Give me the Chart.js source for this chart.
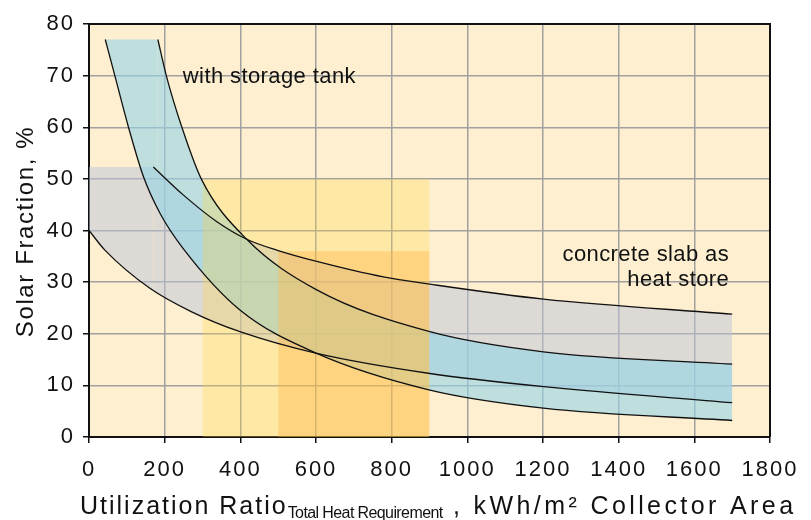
<!DOCTYPE html>
<html>
<head>
<meta charset="utf-8">
<script src="https://cdn.jsdelivr.net/npm/chart.js@4.4.0/dist/chart.umd.min.js"></script>
<style>
    html, body { margin: 0; padding: 0; background: #fff; }
    #wrap { width: 811px; height: 520px; position: relative; }
</style>
</head>
<body>
<div id="wrap"><canvas id="solarChart"></canvas></div>
<script>
// 目盛り
const xTicks = [0, 200, 400, 600, 800, 1000, 1200, 1400, 1600, 1800];
const yTicks = [0, 10, 20, 30, 40, 50, 60, 70, 80];

// 蓄熱槽あり (with storage tank) の上限・下限カーブ
const tankUpperX = [182, 205, 245, 298, 417, 602, 901, 1201, 1700];
const tankUpperY = [77, 69.8, 60.1, 49.8, 38.3, 28.5, 20.4, 16.5, 14.1];
const tankLowerX = [43, 69, 104, 144, 188, 249, 399, 602, 901, 1201, 1700];
const tankLowerY = [77, 69.8, 60.1, 50.4, 43.3, 36.5, 24.6, 16.2, 9.1, 5.6, 3.2];
const tankCapX = [43, 182];
const tankCapY = [77, 77];

// コンクリートスラブ蓄熱の上限・下限カーブ
const slabUpperX = [170, 249, 338, 417, 496, 602, 778, 901, 1201, 1700];
const slabUpperY = [52.3, 46.9, 41.7, 38.3, 36.2, 34.0, 31.0, 29.6, 26.7, 23.8];
const slabLowerX = [0, 42, 161, 270, 399, 602, 901, 1201, 1700];
const slabLowerY = [40, 36.2, 28.8, 24.3, 20.4, 16.2, 12.3, 9.75, 6.65];
const slabCapX = [0, 170];
const slabCapY = [52.3, 52.3];

// 範囲を示す矩形
const yellowX = [300, 900];
const yellowY = [50, 50];
const orangeX = [500, 900];
const orangeY = [36, 36];

// 注記
const notes = [
    { lines: ['with storage tank'], x: 248, y: 68.6, align: 'left' },
    { lines: ['concrete slab as', 'heat store'], x: 1692, y: 34, align: 'right' }
];

const colors = {
    plotBg: '#feefd0',
    grid: '#a0a0a0',
    curve: '#111111',
    slab: 'rgba(188, 195, 216, 0.5)',
    tank: 'rgba(146, 212, 230, 0.6)',
    yellow: 'rgba(254, 216, 68, 0.3)',
    orange: 'rgba(254, 182, 74, 0.4)'
};

const FONT = "'Liberation Sans', Arial, sans-serif";

function pts(xs, ys) {
    return xs.map((x, i) => ({ x: x, y: ys[i] }));
}

// 背景・枠・タイトル・注記
const decoPlugin = {
    id: 'deco',
    beforeDraw(chart) {
        const { ctx, chartArea: a } = chart;
        ctx.letterSpacing = '2px';
        ctx.save();
        ctx.fillStyle = colors.plotBg;
        ctx.fillRect(a.left, a.top, a.right - a.left, a.bottom - a.top);
        ctx.restore();
    },
    afterDatasetsDraw(chart) {
        const { ctx, scales } = chart;
        ctx.save();
        ctx.letterSpacing = '0.4px';
        ctx.fillStyle = '#111';
        ctx.font = '22px ' + FONT;
        notes.forEach(n => {
            ctx.textAlign = n.align;
            const px = scales.x.getPixelForValue(n.x);
            const py = scales.y.getPixelForValue(n.y);
            n.lines.forEach((t, i) => ctx.fillText(t, px, py + i * 25));
        });
        ctx.restore();
    },
    afterDraw(chart) {
        const { ctx, chartArea: a } = chart;
        ctx.save();
        // 上と右の枠
        ctx.strokeStyle = '#111';
        ctx.lineWidth = 2;
        ctx.beginPath();
        ctx.moveTo(a.left, a.top);
        ctx.lineTo(a.right, a.top);
        ctx.lineTo(a.right, a.bottom);
        ctx.stroke();

        ctx.fillStyle = '#111';
        // 縦軸タイトル
        ctx.save();
        ctx.letterSpacing = '1.6px';
        ctx.translate(33, (a.top + a.bottom) / 2 + 1);
        ctx.rotate(-Math.PI / 2);
        ctx.textAlign = 'center';
        ctx.textBaseline = 'alphabetic';
        ctx.font = '24px ' + FONT;
        ctx.fillText('Solar Fraction, %', 0, 0);
        ctx.restore();

        // 横軸タイトル (下付き文字あり)
        const parts = [
            { t: 'Utilization Ratio', size: 25, dy: 0, ls: '2px' },
            { t: 'Total Heat Requirement', size: 16, dy: 4, ls: '-0.6px' },
            { t: ' , kWh/m² Collector Area', size: 25, dy: 0, ls: '3.4px' }
        ];
        let x = 80;
        ctx.textAlign = 'left';
        parts.forEach(p => {
            ctx.font = p.size + 'px ' + FONT;
            ctx.letterSpacing = p.ls;
            ctx.fillText(p.t, x, 514 + p.dy);
            x += ctx.measureText(p.t).width;
        });
        ctx.restore();
    }
};

function createSolarChart() {
    const ctx = document.getElementById('solarChart').getContext('2d');

    const curve = {
        borderColor: colors.curve,
        borderWidth: 1.3,
        pointRadius: 0,
        fill: false,
        cubicInterpolationMode: 'monotone',
        order: 0
    };
    const area = {
        borderColor: 'transparent',
        borderWidth: 0,
        pointRadius: 0,
        cubicInterpolationMode: 'monotone'
    };
    const gridStyle = {
        color: colors.grid,
        lineWidth: 1.5,
        tickColor: '#111',
        tickLength: 6,
        tickWidth: 1.5
    };

    new Chart(ctx, {
        type: 'line',
        data: {
            datasets: [
                { label: 'slab lower', data: pts(slabLowerX, slabLowerY), ...curve },
                { label: 'slab upper', data: pts(slabUpperX, slabUpperY), ...curve },
                { label: 'tank lower', data: pts(tankLowerX, tankLowerY), ...curve },
                { label: 'tank upper', data: pts(tankUpperX, tankUpperY), ...curve },
                { label: 'tank band', data: pts(tankUpperX, tankUpperY), ...area, fill: { target: 2 }, backgroundColor: colors.tank, order: 3 },
                { label: 'tank cap', data: pts(tankCapX, tankCapY), ...area, fill: { target: 2 }, backgroundColor: colors.tank, order: 3 },
                { label: 'slab band', data: pts(slabUpperX, slabUpperY), ...area, fill: { target: 0 }, backgroundColor: colors.slab, order: 4 },
                { label: 'slab cap', data: pts(slabCapX, slabCapY), ...area, fill: { target: 0 }, backgroundColor: colors.slab, order: 4 },
                { label: 'range 300-900', data: pts(yellowX, yellowY), ...area, fill: 'origin', backgroundColor: colors.yellow, order: 2 },
                { label: 'range 500-900', data: pts(orangeX, orangeY), ...area, fill: 'origin', backgroundColor: colors.orange, order: 1 }
            ]
        },
        options: {
            responsive: true,
            maintainAspectRatio: false,
            animation: false,
            layout: {
                padding: { left: 0, top: 24, right: 41, bottom: 0 }
            },
            plugins: {
                legend: { display: false },
                tooltip: { enabled: false }
            },
            scales: {
                x: {
                    type: 'linear',
                    min: 0,
                    max: 1800,
                    afterBuildTicks: axis => { axis.ticks = xTicks.map(v => ({ value: v })); },
                    afterFit: axis => { axis.height = 83; },
                    grid: gridStyle,
                    border: { color: '#111', width: 2 },
                    ticks: {
                        autoSkip: false,
                        maxRotation: 0,
                        padding: 14,
                        color: '#111',
                        font: { family: FONT, size: 22 },
                        callback: value => String(value)
                    }
                },
                y: {
                    min: 0,
                    max: 80,
                    afterBuildTicks: axis => { axis.ticks = yTicks.map(v => ({ value: v })); },
                    afterFit: axis => { axis.width = 89; },
                    grid: gridStyle,
                    border: { color: '#111', width: 2 },
                    ticks: {
                        padding: 8,
                        color: '#111',
                        font: { family: FONT, size: 22 },
                        callback: value => String(value)
                    }
                }
            }
        },
        plugins: [decoPlugin]
    });
}

document.addEventListener('DOMContentLoaded', function() {
    createSolarChart();
});
</script>
</body>
</html>
